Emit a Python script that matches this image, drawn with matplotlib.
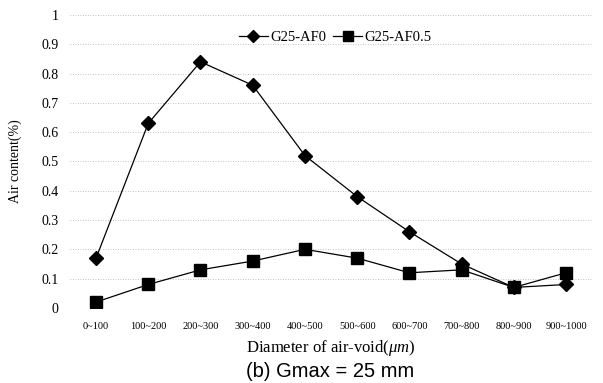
import matplotlib.pyplot as plt

categories = ['0~100', '100~200', '200~300', '300~400', '400~500',
              '500~600', '600~700', '700~800', '800~900', '900~1000']
af0 = [0.17, 0.63, 0.84, 0.76, 0.52, 0.38, 0.26, 0.15, 0.07, 0.08]
af05 = [0.02, 0.08, 0.13, 0.16, 0.20, 0.17, 0.12, 0.13, 0.07, 0.12]
yticks = [0, 0.1, 0.2, 0.3, 0.4, 0.5, 0.6, 0.7, 0.8, 0.9, 1]
ylabels = ['0', '0.1', '0.2', '0.3', '0.4', '0.5', '0.6', '0.7', '0.8', '0.9', '1']

plt.rcParams['font.family'] = ['Liberation Serif', 'DejaVu Serif']
plt.rcParams['mathtext.fontset'] = 'custom'
plt.rcParams['mathtext.rm'] = 'Liberation Serif'
plt.rcParams['mathtext.it'] = 'Liberation Serif:italic'

fig = plt.figure(figsize=(6.03, 3.83), dpi=100)
ax = fig.add_axes([0.116, 0.196, 0.866, 0.765])

x = range(len(categories))
ax.plot(x, af0, color='black', lw=0.9, marker='D', markersize=7.5,
        label='G25-AF0', zorder=3)
ax.plot(x, af05, color='black', lw=0.9, marker='s', markersize=8,
        label='G25-AF0.5', zorder=3)

ax.set_xlim(-0.5, len(categories) - 0.5)
ax.set_ylim(0, 1)
ax.set_xticks(list(x))
ax.set_xticklabels(categories, fontsize=7.5)
ax.set_yticks(yticks)
ax.set_yticklabels(ylabels, fontsize=10)
ax.tick_params(length=0, pad=8)
ax.tick_params(axis='x', pad=10)

for s in ax.spines.values():
    s.set_visible(False)
ax.grid(axis='y', color='#b0b0b0', ls=(0, (1, 2)), lw=0.6)
ax.set_axisbelow(True)

ax.set_ylabel('Air content(%)', fontsize=10, labelpad=14)
ax.set_xlabel(r'Diameter of air-void($\mathit{\mu m}$)', fontsize=12, labelpad=5)

ax.legend(loc='upper center', bbox_to_anchor=(0.508, 0.99), ncol=2,
          frameon=False, fontsize=10.5, handlelength=2.0, handletextpad=0.15,
          columnspacing=0.5, markerscale=0.85)

fig.text(0.547, 0.004, '(b) Gmax = 25 mm', ha='center', va='bottom',
         fontsize=14.5, family=['Liberation Sans', 'DejaVu Sans'])

fig.savefig('out.png', dpi=100)
